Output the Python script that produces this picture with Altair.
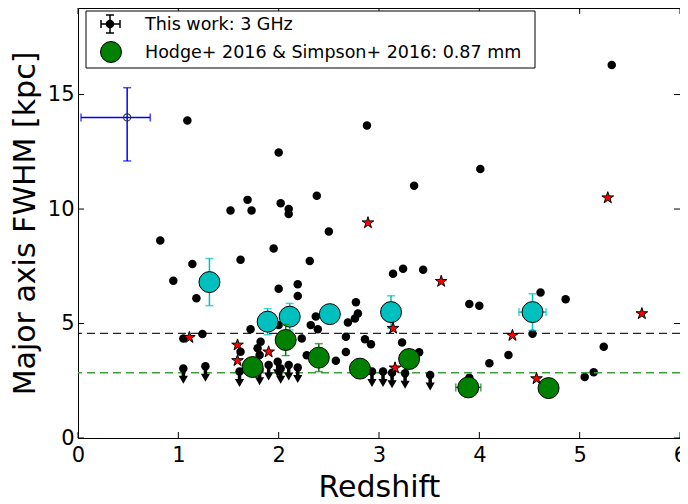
import altair as alt
import pandas as pd

FONT = "DejaVu Sans"

# ---- data ----
dot_z = [1.09, 2.00, 2.88, 5.32, 4.01, 3.35, 2.38, 1.69, 1.52, 1.73, 2.02, 2.10, 2.10, 2.50,
         0.82, 1.95, 1.14, 1.62, 2.31, 0.95, 1.18, 2.00, 2.19, 2.19, 3.14, 3.24, 3.44, 4.61,
         4.86, 3.90, 4.00, 2.77, 2.79, 2.76, 2.69, 2.37, 2.32, 2.39, 1.72, 1.82, 1.79, 1.81,
         2.23, 2.67, 2.67, 2.28, 2.57, 2.86, 2.92, 1.05, 1.24, 3.23, 3.40, 4.53, 4.10, 4.29,
         5.24, 3.90, 5.05, 5.14, 2.00, 1.62]
dot_fwhm = [13.87, 12.47, 13.65, 16.29, 11.75, 11.02, 10.58, 10.40, 9.94, 9.94, 10.25, 10.00, 9.78, 9.02,
            8.63, 8.28, 7.60, 7.79, 7.73, 6.87, 6.10, 6.52, 6.71, 6.20, 7.17, 7.39, 7.35, 6.35,
            6.06, 5.85, 5.78, 5.93, 5.44, 5.22, 5.04, 5.31, 4.93, 4.75, 4.75, 4.20, 3.92, 3.62,
            4.35, 4.42, 3.76, 3.61, 3.37, 4.31, 4.09, 4.35, 4.54, 4.17, 3.74, 4.55, 3.26, 3.62,
            3.99, 2.63, 2.66, 2.87, 4.93, 3.77]

lim_z = [1.05, 1.27, 1.61, 1.81, 1.90, 1.99, 2.02, 2.10, 2.19, 2.93, 3.04, 3.13, 3.26, 3.51]
lim_fwhm = [3.04, 3.13, 2.90, 2.98, 3.19, 3.33, 3.04, 3.19, 3.08, 2.90, 2.90, 2.85, 2.83, 2.75]

star_z = [1.11, 1.59, 1.59, 1.90, 2.89, 3.62, 3.14, 3.16, 4.33, 4.57, 5.28, 5.62]
star_fwhm = [4.39, 4.06, 3.38, 3.76, 9.40, 6.84, 4.79, 3.06, 4.48, 2.59, 10.49, 5.43]

cyan_z = [1.31, 1.89, 2.11, 2.51, 3.12, 4.53]
cyan_fwhm = [6.81, 5.08, 5.30, 5.41, 5.50, 5.50]
cyan_yerr = [1.03, 0.57, 0.58, 0.0, 0.71, 0.80]
cyan_xerr = [0.0, 0.0, 0.0, 0.0, 0.0, 0.135]

green_z = [1.74, 2.07, 2.40, 2.81, 3.30, 3.89, 4.69]
green_fwhm = [3.10, 4.28, 3.51, 3.03, 3.45, 2.21, 2.18]
green_yerr = [0.0, 0.68, 0.61, 0.0, 0.0, 0.0, 0.0]
green_xerr = [0.0, 0.0, 0.0, 0.0, 0.0, 0.125, 0.0]

# typical-uncertainty marker (asymmetric bars)
ref_z = [0.49]
ref_fwhm = [14.0]
ref_z_lo = [0.03]
ref_z_hi = [0.72]
ref_fwhm_lo = [12.1]
ref_fwhm_hi = [15.3]

median_radio = [4.57]
median_mm = [2.85]

x_ticks = [0, 1, 2, 3, 4, 5, 6]
y_ticks = [0, 5, 10, 15]
legend_labels = ["This work: 3 GHz", "Hodge+ 2016 & Simpson+ 2016: 0.87 mm"]
x_title = "Redshift"
y_title = "Major axis FWHM [kpc]"

STAR = ("M0,-1L0.2245,-0.309L0.951,-0.309L0.363,0.118L0.588,0.809L0,0.382"
        "L-0.588,0.809L-0.363,0.118L-0.951,-0.309L-0.2245,-0.309Z")

# ---- chart ----
W, H = 602, 430
xs = alt.Scale(domain=[0, 6], nice=False, zero=False)
ys = alt.Scale(domain=[0, 18.78], nice=False, zero=False)

x_axis = alt.Axis(
    values=x_ticks, title=x_title, grid=False, ticks=False, domain=False,
    labelFont=FONT, labelFontSize=21, labelColor="black", labelPadding=6,
    labelFlush=False, labelOverlap=False, format="d",
    titleFont=FONT, titleFontSize=30, titleFontWeight="normal", titleColor="black",
    titlePadding=7)
y_axis = alt.Axis(
    values=y_ticks, title=y_title, grid=False, ticks=False, domain=False,
    labelFont=FONT, labelFontSize=21, labelColor="black", labelPadding=4,
    labelFlush=False, labelOverlap=False, format="d",
    titleFont=FONT, titleFontSize=30, titleFontWeight="normal", titleColor="black",
    titlePadding=7)

cyan = "#00bfbf"
green = "#008000"

def X(field="z"):
    return alt.X(f"{field}:Q", scale=xs, axis=x_axis)

def Y(field="fwhm"):
    return alt.Y(f"{field}:Q", scale=ys, axis=y_axis)

dots_df = pd.DataFrame({"z": dot_z, "fwhm": dot_fwhm})
dots = alt.Chart(dots_df).mark_point(filled=True, size=72, color="black", opacity=1).encode(
    x=X(), y=Y())

lim_df = pd.DataFrame({"z": lim_z, "fwhm": lim_fwhm})
lim_base = alt.Chart(lim_df).transform_calculate(
    shaft=alt.datum.fwhm - 0.42, head=alt.datum.fwhm - 0.50)
lim_dots = lim_base.mark_point(filled=True, size=72, color="black", opacity=1).encode(x=X(), y=Y())
lim_shaft = lim_base.mark_rule(color="black", strokeWidth=3.5).encode(x=X(), y=Y(), y2="shaft:Q")
lim_head = lim_base.mark_point(shape="triangle-down", filled=True, size=85, color="black",
                               opacity=1).encode(x=X(), y=Y("head"))

lines = alt.Chart(pd.DataFrame({"fwhm": median_radio})).mark_rule(
    color="black", strokeDash=[8, 5], strokeWidth=1.3, opacity=0.85).encode(y=Y())
lines_g = alt.Chart(pd.DataFrame({"fwhm": median_mm})).mark_rule(
    color="#3c9f3c", strokeDash=[8, 5], strokeWidth=1.5).encode(y=Y())

def big(zs, fw, ye, xe, col):
    df = pd.DataFrame({"z": zs, "fwhm": fw, "ye": ye, "xe": xe})
    base = alt.Chart(df).transform_calculate(
        lo=alt.datum.fwhm - alt.datum.ye, hi=alt.datum.fwhm + alt.datum.ye,
        xl=alt.datum.z - alt.datum.xe, xh=alt.datum.z + alt.datum.xe)
    yb = base.transform_filter(alt.datum.ye > 0)
    xb = base.transform_filter(alt.datum.xe > 0)
    ybar = yb.mark_rule(color=col, strokeWidth=1.5).encode(x=X(), y=Y("lo"), y2="hi:Q")
    ycap1 = yb.mark_tick(orient="horizontal", color=col, size=8, thickness=1.5).encode(x=X(), y=Y("lo"))
    ycap2 = yb.mark_tick(orient="horizontal", color=col, size=8, thickness=1.5).encode(x=X(), y=Y("hi"))
    xbar = xb.mark_rule(color=col, strokeWidth=1.5).encode(x=X("xl"), x2="xh:Q", y=Y())
    xcap1 = xb.mark_tick(orient="vertical", color=col, size=8, thickness=1.5).encode(x=X("xl"), y=Y())
    xcap2 = xb.mark_tick(orient="vertical", color=col, size=8, thickness=1.5).encode(x=X("xh"), y=Y())
    pts = base.mark_point(filled=True, size=440, color=col, stroke="black", strokeWidth=1,
                          opacity=1).encode(x=X(), y=Y())
    return [ybar, ycap1, ycap2, xbar, xcap1, xcap2, pts]

stars = alt.Chart(pd.DataFrame({"z": star_z, "fwhm": star_fwhm})).mark_point(
    shape=STAR, filled=True, size=150, color="red", stroke="black", strokeWidth=1,
    opacity=1).encode(x=X(), y=Y())

ref_df = pd.DataFrame({"z": ref_z, "fwhm": ref_fwhm, "xl": ref_z_lo, "xh": ref_z_hi,
                       "lo": ref_fwhm_lo, "hi": ref_fwhm_hi})
ref_base = alt.Chart(ref_df)
blue = "#0000ff"
ref_layers = [
    ref_base.mark_rule(color=blue, strokeWidth=1.5).encode(x=X(), y=Y("lo"), y2="hi:Q"),
    ref_base.mark_rule(color=blue, strokeWidth=1.5).encode(x=X("xl"), x2="xh:Q", y=Y()),
    ref_base.mark_tick(orient="horizontal", color=blue, size=8, thickness=1.5).encode(x=X(), y=Y("lo")),
    ref_base.mark_tick(orient="horizontal", color=blue, size=8, thickness=1.5).encode(x=X(), y=Y("hi")),
    ref_base.mark_tick(orient="vertical", color=blue, size=8, thickness=1.5).encode(x=X("xl"), y=Y()),
    ref_base.mark_tick(orient="vertical", color=blue, size=8, thickness=1.5).encode(x=X("xh"), y=Y()),
    ref_base.mark_point(filled=False, size=50, color="#333333", strokeWidth=1.2, opacity=1).encode(x=X(), y=Y()),
]

# inward ticks on all four sides
xt = alt.Chart(pd.DataFrame({"z": x_ticks}))
yt = alt.Chart(pd.DataFrame({"fwhm": y_ticks}))
ticks = [
    xt.mark_rule(color="black").encode(x=X(), y=alt.value(H), y2=alt.value(H - 6)),
    xt.mark_rule(color="black").encode(x=X(), y=alt.value(0), y2=alt.value(6)),
    yt.mark_rule(color="black").encode(y=Y(), x=alt.value(0), x2=alt.value(6)),
    yt.mark_rule(color="black").encode(y=Y(), x=alt.value(W), x2=alt.value(W - 6)),
]

# legend (drawn inside the plot, upper left)
one = alt.Chart(pd.DataFrame({"a": [0]}))
leg = [
    one.mark_rect(fill="white", stroke="black", strokeWidth=1).encode(
        x=alt.value(8), x2=alt.value(457), y=alt.value(3), y2=alt.value(60)),
    one.mark_rule(color="black", strokeWidth=1.5).encode(x=alt.value(32), y=alt.value(7), y2=alt.value(25)),
    one.mark_rule(color="black", strokeWidth=1.5).encode(x=alt.value(23), x2=alt.value(42), y=alt.value(16)),
    one.mark_rule(color="black", strokeWidth=1.5).encode(x=alt.value(28), x2=alt.value(36), y=alt.value(7)),
    one.mark_rule(color="black", strokeWidth=1.5).encode(x=alt.value(28), x2=alt.value(36), y=alt.value(25)),
    one.mark_rule(color="black", strokeWidth=1.5).encode(x=alt.value(23), y=alt.value(12), y2=alt.value(20)),
    one.mark_rule(color="black", strokeWidth=1.5).encode(x=alt.value(42), y=alt.value(12), y2=alt.value(20)),
    one.mark_point(filled=True, size=72, color="black", opacity=1).encode(x=alt.value(32), y=alt.value(16)),
    one.mark_point(filled=True, size=440, color=green, stroke="black", strokeWidth=1, opacity=1).encode(
        x=alt.value(33), y=alt.value(44)),
    one.mark_text(align="left", baseline="middle", font=FONT, fontSize=17.5, color="black").encode(
        x=alt.value(67), y=alt.value(17), text=alt.value(legend_labels[0])),
    one.mark_text(align="left", baseline="middle", font=FONT, fontSize=17.5, color="black").encode(
        x=alt.value(67), y=alt.value(45), text=alt.value(legend_labels[1])),
]

layers = ([dots, lines, lines_g, lim_shaft, lim_head, lim_dots]
          + big(cyan_z, cyan_fwhm, cyan_yerr, cyan_xerr, cyan)
          + big(green_z, green_fwhm, green_yerr, green_xerr, green)
          + [stars] + ref_layers + ticks + leg)

chart = alt.layer(*layers).properties(
    width=W, height=H,
    autosize=alt.AutoSizeParams(type="none"),
    padding={"left": 70, "top": 0, "right": 0, "bottom": 66},
    background="white",
).configure_view(stroke="black", strokeWidth=1)

chart.save("out.html", embed_options={"renderer": "svg", "actions": False})
